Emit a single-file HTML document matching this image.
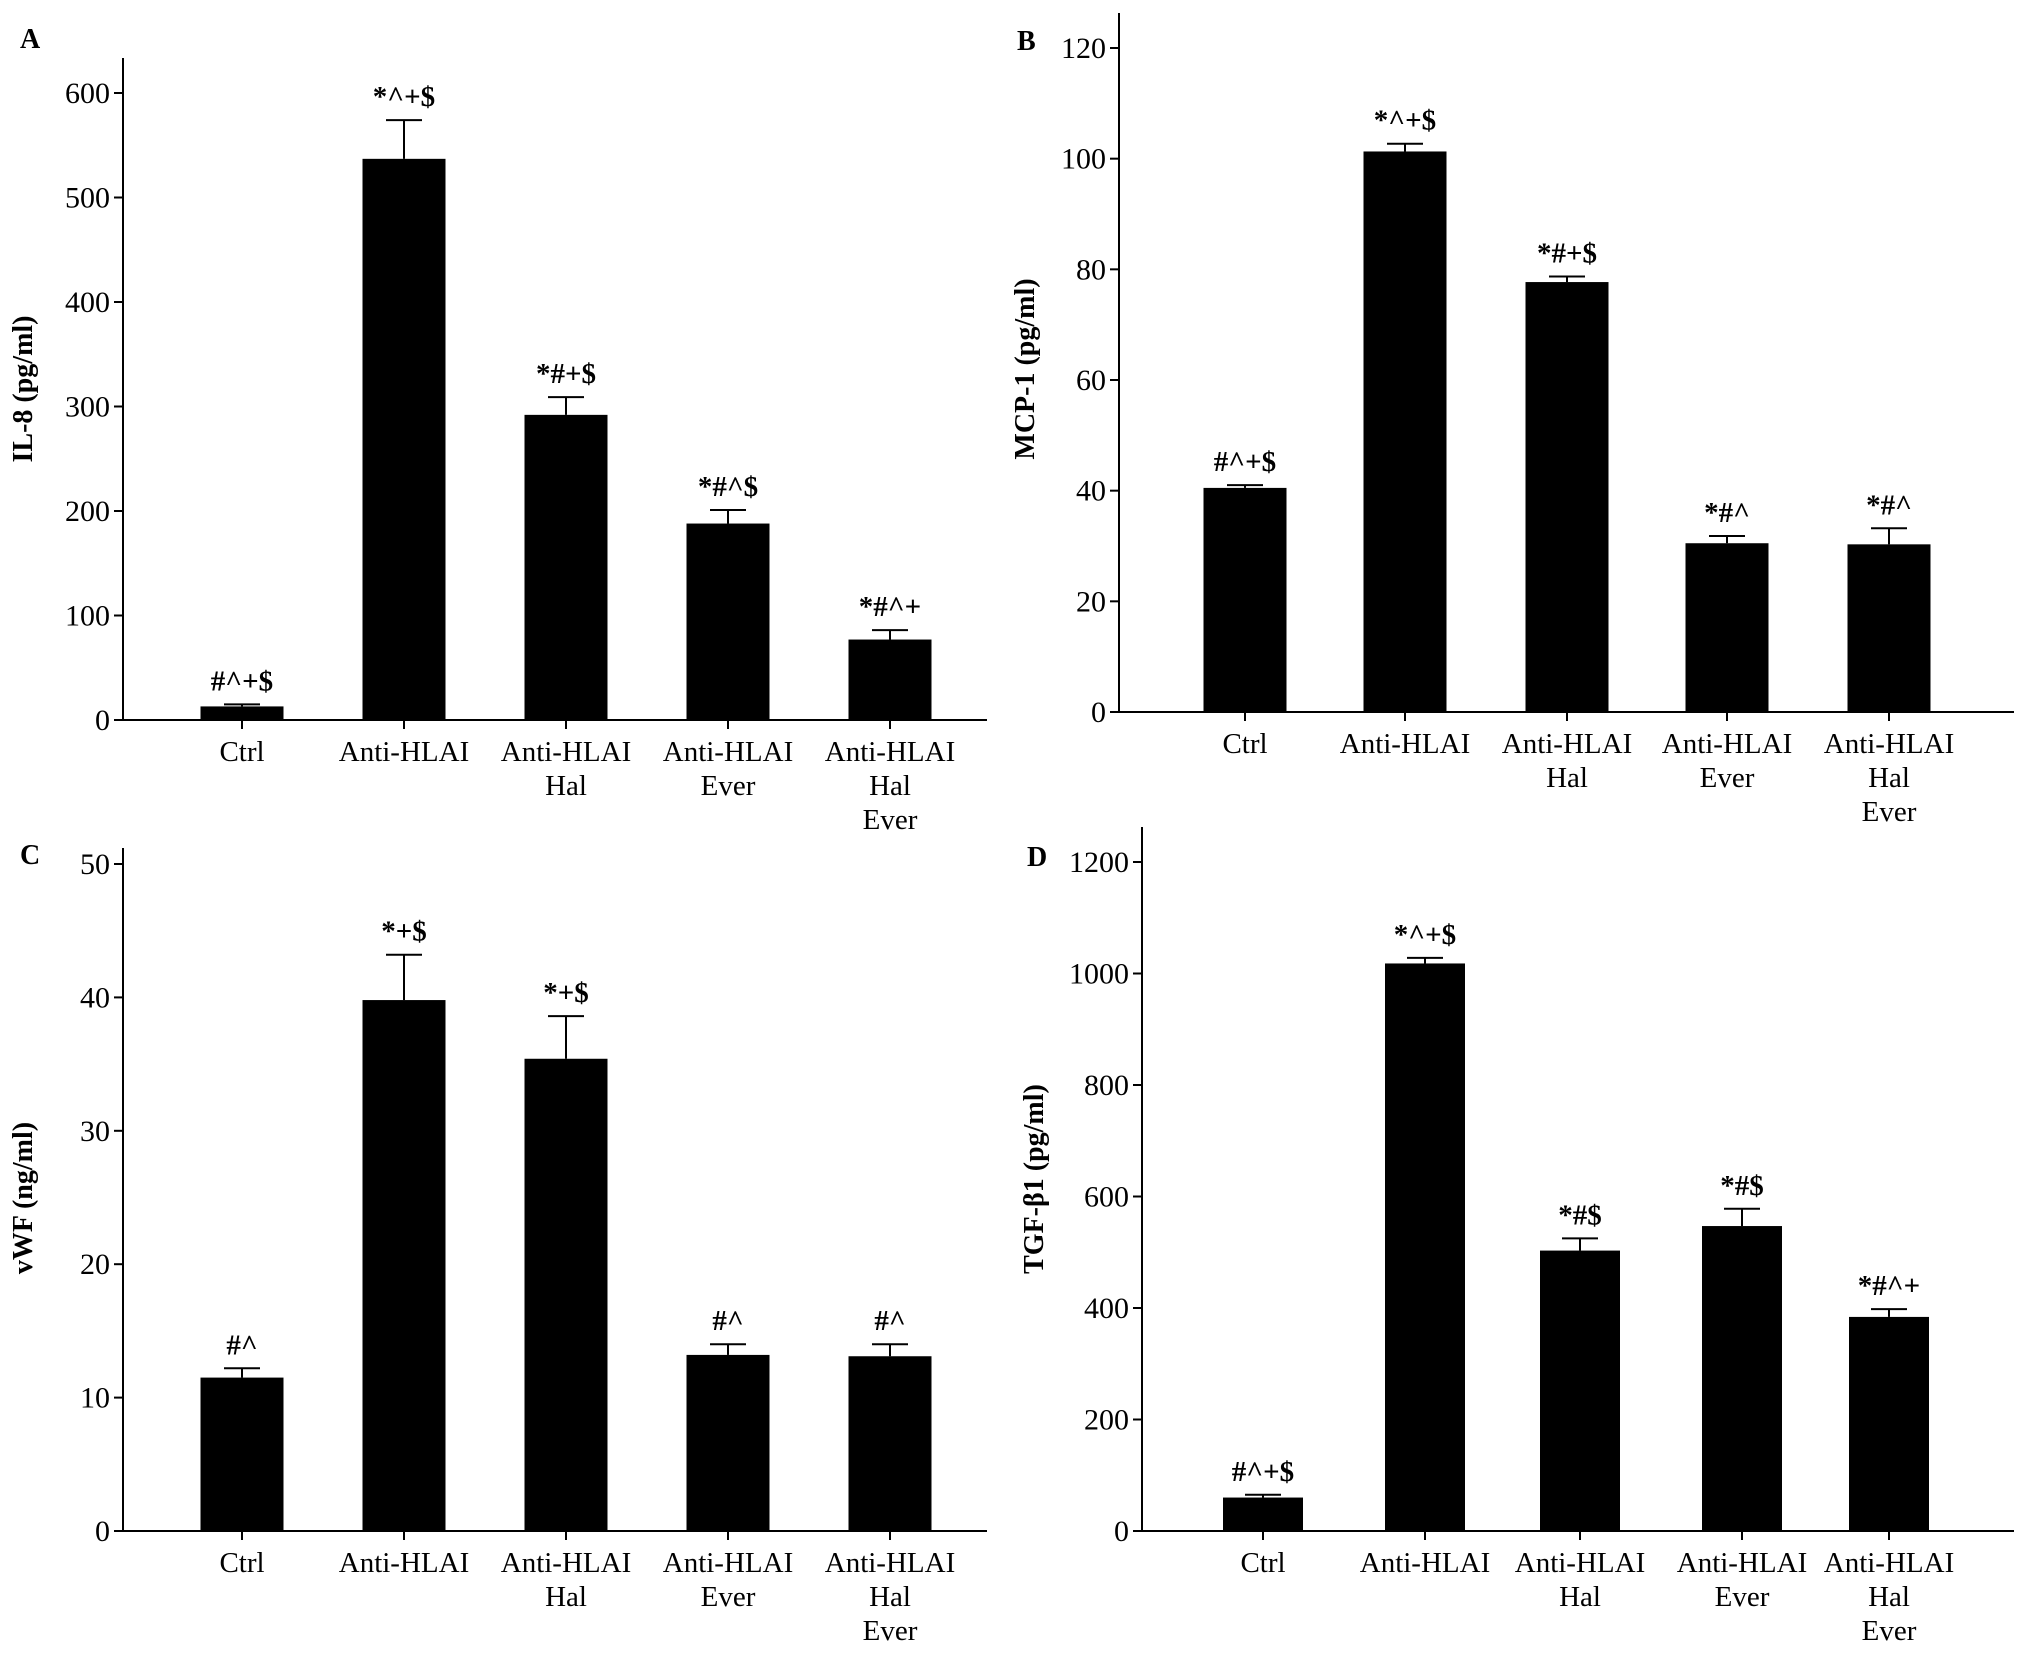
<!DOCTYPE html>
<html><head><meta charset="utf-8"><style>
html,body{margin:0;padding:0;background:#fff}
svg{display:block}
text{font-family:"Liberation Serif",serif;fill:#000}
</style></head><body>
<svg id="chart" width="2031" height="1654" viewBox="0 0 2031 1654" xmlns="http://www.w3.org/2000/svg"></svg>
<script>
const categories = [["Ctrl"],["Anti-HLAI"],["Anti-HLAI","Hal"],["Anti-HLAI","Ever"],["Anti-HLAI","Hal","Ever"]];
const il8Values = [13, 537, 292, 188, 77];
const il8ErrTop = [15, 574, 309, 201, 86];
const il8Marks = ["#^+$","*^+$","*#+$","*#^$","*#^+"];
const il8Ticks = [0,100,200,300,400,500,600];
const mcpValues = [40.5, 101.3, 77.7, 30.5, 30.3];
const mcpErrTop = [41, 102.7, 78.7, 31.8, 33.2];
const mcpMarks = ["#^+$","*^+$","*#+$","*#^","*#^"];
const mcpTicks = [0,20,40,60,80,100,120];
const vwfValues = [11.5, 39.8, 35.4, 13.2, 13.1];
const vwfErrTop = [12.2, 43.2, 38.6, 14, 14];
const vwfMarks = ["#^","*+$","*+$","#^","#^"];
const vwfTicks = [0,10,20,30,40,50];
const tgfValues = [60, 1018, 503, 547, 384];
const tgfErrTop = [65, 1028, 525, 578, 398];
const tgfMarks = ["#^+$","*^+$","*#$","*#$","*#^+"];
const tgfTicks = [0,200,400,600,800,1000,1200];

const svg = document.getElementById('chart');
const NS = "http://www.w3.org/2000/svg";
function mk(tag, attrs, parent){const e=document.createElementNS(NS,tag);for(const k in attrs)e.setAttribute(k,attrs[k]);(parent||svg).appendChild(e);return e;}

function panel(p){
  const g = mk('g',{});
  
  
  const y = v => p.y0 - (v - 0) / p.max * (p.y0 - p.yMaxPx);
  const ya = mk('line',{x1:p.ax,y1:p.axTop,x2:p.ax,y2:p.y0,stroke:'#000','stroke-width':2},g);
  
  
  const xa = mk('line',{x1:p.ax,y1:p.y0,x2:p.axRight,y2:p.y0,stroke:'#000','stroke-width':2},g);
  
  
  p.ticks.forEach(t=>{
    mk('line',{x1:p.ax-9,y1:y(t),x2:p.ax,y2:y(t),stroke:'#000','stroke-width':2},g);
    const tl = mk('text',{x:p.ax-13,y:y(t)+10,'text-anchor':'end','font-size':30},g);
    tl.textContent = t;
    
    
  });
  p.vals.forEach((v,i)=>{
    const cx = p.centers[i];
    const bar = mk('rect',{x:cx-p.bw/2,y:y(v),width:p.bw,height:p.y0-y(v),fill:'#000'},g);
    
    
    const et = y(p.err[i]);
    const eb = mk('line',{x1:cx,y1:et,x2:cx,y2:y(v),stroke:'#000','stroke-width':2},g);
    
    
    mk('line',{x1:cx-18,y1:et,x2:cx+18,y2:et,stroke:'#000','stroke-width':2},g);
    const an = mk('text',{x:cx,y:et-14,'text-anchor':'middle','font-size':29,'font-weight':'bold'},g);
    an.textContent = p.marks[i];
    
    
    mk('line',{x1:cx,y1:p.y0,x2:cx,y2:p.y0+9,stroke:'#000','stroke-width':2},g);
    categories[i].forEach((ln,j)=>{
      const xl = mk('text',{x:cx,y:p.y0+41+j*34,'text-anchor':'middle','font-size':29},g);
      xl.textContent = ln;
      
      
    });
  });
  const tt = mk('text',{x:p.tx,y:p.ty,'text-anchor':'middle','font-size':28,'font-weight':'bold',transform:`rotate(-90 ${p.tx} ${p.ty})`},g);
  tt.textContent = p.title;
  
  
  const lt = mk('text',{x:p.lx,y:p.ly,'font-size':28,'font-weight':'bold'},g);
  lt.textContent = p.id;
  
  
}

panel({id:'A',ax:123,axTop:58,axRight:987,y0:720,yMaxPx:93,max:600,ticks:il8Ticks,vals:il8Values,err:il8ErrTop,marks:il8Marks,
  centers:[242,404,566,728,890],bw:83,title:'IL-8 (pg/ml)',tx:32,ty:389,lx:20,ly:48});
panel({id:'B',ax:1119,axTop:13,axRight:2014,y0:712,yMaxPx:48,max:120,ticks:mcpTicks,vals:mcpValues,err:mcpErrTop,marks:mcpMarks,
  centers:[1245,1405,1567,1727,1889],bw:83,title:'MCP-1 (pg/ml)',tx:1034,ty:369,lx:1017,ly:50});
panel({id:'C',ax:123,axTop:848,axRight:987,y0:1531,yMaxPx:864,max:50,ticks:vwfTicks,vals:vwfValues,err:vwfErrTop,marks:vwfMarks,
  centers:[242,404,566,728,890],bw:83,title:'vWF (ng/ml)',tx:32,ty:1198,lx:20,ly:864});
panel({id:'D',ax:1142,axTop:827,axRight:2014,y0:1531,yMaxPx:862,max:1200,ticks:tgfTicks,vals:tgfValues,err:tgfErrTop,marks:tgfMarks,
  centers:[1263,1425,1580,1742,1889],bw:80,title:'TGF-β1 (pg/ml)',tx:1043,ty:1179,lx:1027,ly:866});
</script>
</body></html>
